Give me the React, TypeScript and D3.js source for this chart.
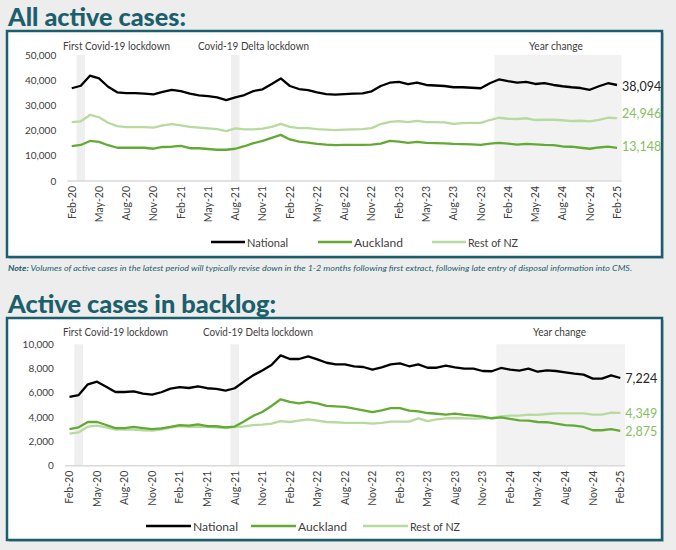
import React from "react";
import * as d3 from "d3";

const tickLabels = ["Feb-20","May-20","Aug-20","Nov-20","Feb-21","May-21","Aug-21","Nov-21","Feb-22","May-22","Aug-22","Nov-22","Feb-23","May-23","Aug-23","Nov-23","Feb-24","May-24","Aug-24","Nov-24","Feb-25"];

const activeNational = [36800,37800,41800,40700,37400,35200,34900,34900,34700,34400,
35400,36200,35700,34700,34000,33700,33200,32100,33200,34100,
35700,36400,38500,40700,37700,36500,36100,35200,34500,34300,
34500,34700,34800,35600,37700,39000,39300,38400,39000,38100,
37900,37700,37200,37200,37000,36800,38800,40300,39600,39000,
39300,38500,38800,38100,37600,37200,36900,36200,37600,38800,38094];
const activeAuckland = [13800,14300,15900,15500,14200,13200,13200,13200,13200,12800,
13500,13600,13900,13000,13000,12700,12400,12400,12800,13800,
15000,15900,17100,18300,16500,15600,15200,14700,14400,14200,
14300,14300,14300,14400,14800,15900,15600,15100,15500,15100,
15000,14900,14700,14600,14500,14300,14800,15100,14800,14400,
14700,14500,14300,14200,13700,13600,13200,12800,13300,13600,13148];
const activeRest = [23400,23700,26200,25300,23100,21800,21400,21400,21400,21200,
22100,22600,22100,21500,21200,20900,20600,19800,20900,20500,
20500,20800,21500,22700,21500,21000,21000,20600,20400,20200,
20400,20500,20600,21000,22600,23500,23800,23400,23900,23400,
23400,23300,22700,23000,23100,23100,24200,25100,24700,24600,
24900,24200,24300,24300,24100,23800,23900,23700,24300,25100,24946];

const backlogNational = [5660,5820,6700,6920,6510,6070,6070,6130,5930,5850,
6050,6350,6480,6400,6540,6380,6320,6180,6380,6930,
7440,7850,8290,9090,8790,8790,9010,8760,8480,8350,
8350,8190,8130,7910,8100,8350,8430,8190,8350,8070,
8070,8240,8100,7990,7990,7800,7780,8050,7910,7830,
7990,7740,7850,7800,7690,7580,7500,7170,7170,7440,7224];
const backlogAuckland = [3020,3160,3600,3600,3350,3100,3100,3190,3100,3020,
3080,3190,3350,3300,3410,3250,3250,3160,3220,3650,
4100,4420,4920,5470,5250,5140,5250,5140,4920,4890,
4840,4700,4560,4420,4560,4750,4750,4530,4480,4340,
4280,4200,4290,4180,4120,4040,3900,3980,3850,3740,
3720,3600,3580,3460,3350,3300,3190,2920,2920,3020,2875];
const backlogRest = [2640,2750,3210,3300,3160,2970,2990,2970,2920,2900,
2970,3130,3270,3210,3190,3210,3160,3100,3190,3230,
3350,3380,3460,3680,3600,3710,3820,3710,3600,3580,
3520,3520,3520,3460,3520,3630,3630,3630,3900,3680,
3810,3900,3930,3900,3880,3900,3930,4070,4120,4120,
4200,4180,4260,4310,4310,4310,4310,4200,4200,4370,4349];

const lockdownIdx = [1, 18];
const yearChangeStart = 47;
const annotations = ["First Covid-19 lockdown", "Covid-19 Delta lockdown", "Year change"];
const legendNames = ["National", "Auckland", "Rest of NZ"];

const TEAL = "#1c5f6c";
const C_NAT = "#000000";
const C_AKL = "#62aa35";
const C_REST = "#b7da9f";
const C_LBL = "#86c062";
const TXT = "#404040";
const FONT = "Lato, 'Open Sans', sans-serif";

type ChartProps = {
  box: { x: number; y: number; w: number; h: number };
  left: number; right: number; top: number; bottom: number;
  yMax: number; yStep: number;
  nat: number[]; akl: number[]; rest: number[];
  annX: number[]; annW: number[]; annY: number;
  endLabelY: number[];
  legend: { lineX: number[]; y: number; len: number; textW: number[] };
};

function fmt(v: number) { return d3.format(",")(v); }

function Chart(p: ChartProps) {
  const n = p.nat.length;
  const x = d3.scaleLinear().domain([-0.5, n - 0.5]).range([p.left, p.right]);
  const y = d3.scaleLinear().domain([0, p.yMax]).range([p.bottom, p.top]);
  const line = d3.line<number>().x((_, i) => x(i)).y((d) => y(d)).curve(d3.curveLinear);
  const yTicks = d3.range(0, p.yMax + 1, p.yStep);
  const step = x(1) - x(0);
  const endX = x(n - 1) + 5;
  const endVals = [p.nat[n - 1], p.rest[n - 1], p.akl[n - 1]];
  const endCols = ["#262626", C_LBL, C_LBL];
  const colors = [C_NAT, C_AKL, C_REST];
  return (
    <g>
      <rect x={p.box.x + 2} y={p.box.y + 2} width={p.box.w} height={p.box.h} fill="#c4c4c4" />
      <rect x={p.box.x} y={p.box.y} width={p.box.w} height={p.box.h} fill="#ffffff" stroke={TEAL} strokeWidth={2.5} />
      {lockdownIdx.map((i) => (
        <rect key={i} x={x(i) - step * 0.47} y={p.top} width={step * 0.94} height={p.bottom - p.top} fill="#efefef" />
      ))}
      <rect x={x(yearChangeStart - 0.5)} y={p.top} width={x(n - 0.5) - x(yearChangeStart - 0.5)} height={p.bottom - p.top} fill="#f2f2f2" />
      {annotations.map((a, k) => (
        <text key={a} x={p.annX[k]} y={p.annY} fontSize={10.5} fill={TXT} fontFamily={FONT} textLength={p.annW[k]} lengthAdjust="spacingAndGlyphs">{a}</text>
      ))}
      {yTicks.map((t) => (
        <text key={t} x={p.left - 11} y={y(t) + 3.5} fontSize={10} fill={TXT} fontFamily={FONT} textAnchor="end">{fmt(t)}</text>
      ))}
      <line x1={p.left} x2={p.right} y1={p.bottom} y2={p.bottom} stroke="#d9d9d9" strokeWidth={1.5} />
      {tickLabels.map((t, k) => (
        <text key={t} transform={`translate(${x(k * 3) + 3.8},${p.bottom + 5}) rotate(-90)`} fontSize={10.5} fill={TXT} fontFamily={FONT} textAnchor="end">{t}</text>
      ))}
      <path d={line(p.rest) || ""} fill="none" stroke={C_REST} strokeWidth={2.3} strokeLinejoin="round" />
      <path d={line(p.akl) || ""} fill="none" stroke={C_AKL} strokeWidth={2.3} strokeLinejoin="round" />
      <path d={line(p.nat) || ""} fill="none" stroke={C_NAT} strokeWidth={2.3} strokeLinejoin="round" />
      {endVals.map((v, k) => (
        <text key={k} x={endX} y={p.endLabelY[k] + 4.5} fontSize={12.5} fill={endCols[k]} fontFamily={FONT}>{fmt(v)}</text>
      ))}
      {legendNames.map((nm, k) => (
        <g key={nm}>
          <line x1={p.legend.lineX[k]} x2={p.legend.lineX[k] + p.legend.len} y1={p.legend.y} y2={p.legend.y} stroke={colors[k]} strokeWidth={2.5} />
          <text x={p.legend.lineX[k] + p.legend.len + 2} y={p.legend.y + 4.5} fontSize={11.5} fill={TXT} fontFamily={FONT} textLength={p.legend.textW[k]} lengthAdjust="spacingAndGlyphs">{nm}</text>
        </g>
      ))}
    </g>
  );
}

export default function App() {
  return (
    <svg width={676} height={550} style={{ position: "absolute", left: 0, top: 0 }}>
      <rect x={0} y={0} width={676} height={550} fill="#ededed" />
      <text x={8} y={26} fontSize={25} fontWeight={900} fill={TEAL} fontFamily={FONT} textLength={178} lengthAdjust="spacingAndGlyphs">All active cases:</text>
      <Chart
        box={{ x: 7, y: 31, w: 655, h: 226 }}
        left={67.2} right={621.6} top={55} bottom={181}
        yMax={50000} yStep={10000}
        nat={activeNational} akl={activeAuckland} rest={activeRest}
        annX={[63, 198, 529]} annW={[107, 111, 54]} annY={50}
        endLabelY={[86, 113, 146]}
        legend={{ lineX: [211, 318, 432], y: 242, len: 34, textW: [41, 49, 50] }}
      />
      <text x={8} y={271} fontSize={7.8} fontStyle="italic" fill={TEAL} fontFamily={FONT} textLength={624} lengthAdjust="spacingAndGlyphs">
        <tspan fontWeight={700}>Note:</tspan> Volumes of active cases in the latest period will typically revise down in the 1-2 months following first extract, following late entry of disposal information into CMS.
      </text>
      <text x={8} y={313} fontSize={25} fontWeight={900} fill={TEAL} fontFamily={FONT} textLength={268} lengthAdjust="spacingAndGlyphs">Active cases in backlog:</text>
      <Chart
        box={{ x: 7, y: 318, w: 655, h: 222 }}
        left={64.9} right={624.9} top={344.3} bottom={465.7}
        yMax={10000} yStep={2000}
        nat={backlogNational} akl={backlogAuckland} rest={backlogRest}
        annX={[63, 203, 533]} annW={[105, 110, 53]} annY={336}
        endLabelY={[378.5, 413.3, 431.3]}
        legend={{ lineX: [146, 251, 363], y: 526, len: 45, textW: [45, 49, 50] }}
      />
    </svg>
  );
}
